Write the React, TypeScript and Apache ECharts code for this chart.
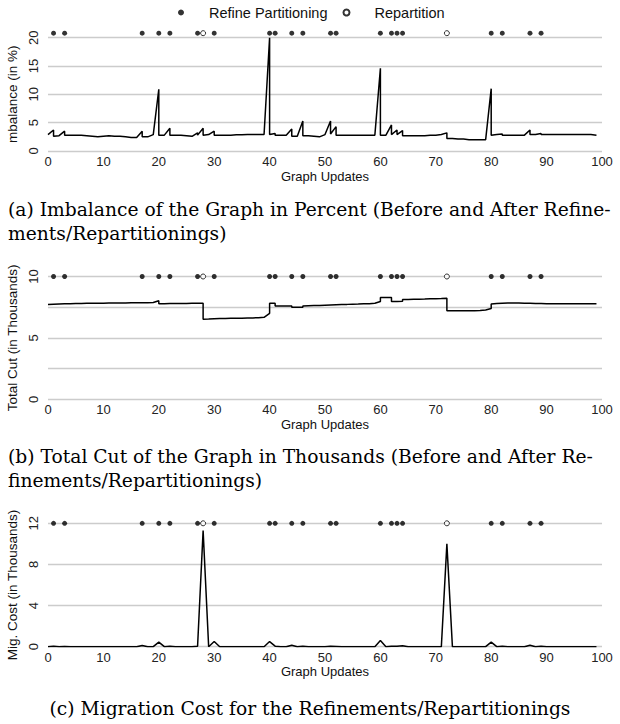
import React, { useEffect, useRef } from "react";
import * as echarts from "echarts";

// Graph updates where an adjustment happened
const refineUpdates = [1, 3, 17, 20, 22, 27, 30, 40, 41, 44, 46, 51, 52, 60, 62, 63, 64, 80, 82, 87, 89];
const repartitionUpdates = [28, 72];
const adjustUpdates = [1, 3, 17, 20, 22, 27, 28, 30, 40, 41, 44, 46, 51, 52, 60, 62, 63, 64, 72, 80, 82, 87, 89];

// (a) Imbalance in %, per graph update 0..99 (before adjustment)
const imbalanceBefore = [
  2.9, 3.7, 2.7, 3.5, 2.8, 2.8, 2.8, 2.7, 2.6, 2.5,
  2.6, 2.7, 2.6, 2.6, 2.5, 2.4, 2.4, 3.5, 2.5, 2.9,
  10.9, 2.8, 4.0, 2.8, 2.8, 2.7, 2.6, 3.2, 4.0, 2.9,
  3.5, 2.8, 2.8, 2.8, 2.85, 2.85, 2.9, 2.9, 2.9, 2.9,
  20.0, 3.1, 2.8, 2.8, 3.9, 2.6, 5.3, 2.7, 2.6, 2.5,
  2.9, 5.3, 4.3, 2.8, 2.8, 2.8, 2.8, 2.8, 2.8, 2.8,
  14.6, 2.8, 4.6, 3.7, 3.6, 2.7, 2.7, 2.7, 2.7, 2.8,
  2.8, 2.9, 3.2, 2.2, 2.1, 2.1, 2.0, 2.0, 2.0, 2.0,
  11.0, 2.9, 3.0, 2.8, 2.8, 2.8, 2.8, 3.7, 2.9, 3.1,
  2.9, 2.9, 2.9, 2.9, 2.9, 2.9, 2.9, 2.9, 2.9, 2.8,
];
// (a) Imbalance after adjustment, one per adjustUpdates entry
const imbalanceAfter = [2.6, 2.8, 2.5, 2.8, 2.8, 2.8, 2.8, 2.8, 2.9, 2.8, 2.6, 2.7, 3.0, 2.8, 2.8, 2.9, 2.9, 2.7, 2.2, 2.8, 2.8, 2.9, 2.9];

// (b) Total cut in thousands, per graph update (before adjustment)
const cutBefore = [
  7.72, 7.74, 7.76, 7.78, 7.79, 7.8, 7.81, 7.82, 7.82, 7.83,
  7.83, 7.84, 7.84, 7.85, 7.85, 7.86, 7.86, 7.87, 7.87, 7.88,
  8.03, 7.79, 7.8, 7.8, 7.81, 7.81, 7.82, 7.82, 7.82, 6.53,
  6.55, 6.57, 6.58, 6.59, 6.6, 6.61, 6.62, 6.63, 6.64, 6.68,
  7.0, 7.82, 7.6, 7.6, 7.6, 7.49, 7.5, 7.62, 7.63, 7.64,
  7.66, 7.68, 7.7, 7.72, 7.73, 7.75, 7.76, 7.78, 7.79, 7.82,
  7.96, 8.3, 8.3, 7.97, 7.98, 8.13, 8.14, 8.15, 8.16, 8.18,
  8.19, 8.2, 8.22, 7.22, 7.22, 7.21, 7.21, 7.22, 7.24, 7.28,
  7.4, 7.8, 7.82, 7.84, 7.84, 7.84, 7.83, 7.82, 7.8, 7.8,
  7.78, 7.78, 7.78, 7.78, 7.78, 7.78, 7.78, 7.78, 7.78, 7.78,
];
const cutAfter = [7.74, 7.78, 7.87, 7.78, 7.8, 7.82, 6.52, 6.55, 7.82, 7.6, 7.49, 7.6, 7.68, 7.7, 8.3, 7.96, 7.97, 8.12, 7.22, 7.76, 7.84, 7.8, 7.78];

// (c) Migration cost in thousands, per graph update
const migrationCost = [
  0, 0.05, 0, 0.03, 0, 0, 0, 0, 0, 0,
  0, 0, 0, 0, 0, 0, 0, 0.12, 0, 0,
  0.45, 0, 0.05, 0, 0, 0, 0, 0.05, 11.3, 0,
  0.5, 0, 0, 0, 0, 0, 0, 0, 0, 0,
  0.5, 0.05, 0, 0, 0.15, 0, 0.05, 0, 0, 0,
  0, 0.05, 0.03, 0, 0, 0, 0, 0, 0, 0,
  0.6, 0, 0.05, 0.05, 0.1, 0, 0, 0, 0, 0,
  0, 0, 10.0, 0, 0, 0, 0, 0, 0, 0,
  0.45, 0, 0.05, 0, 0, 0, 0, 0.15, 0, 0.05,
  0, 0, 0, 0, 0, 0, 0, 0, 0, 0,
];

// Marker row level on each panel's y scale
const markerLevels = [20.8, 10, 12];

const yMaxes = [20, 10, 12];
const yIntervals = [5, 2.5, 4];
const yLabelSteps = [5, 5, 4];
const yNames = ["mbalance (in %)", "Total Cut (in Thousands)", "Mig. Cost (in Thousands)"];

const captions = [
  ["(a) Imbalance of the Graph in Percent (Before and After Refine-", "ments/Repartitionings)"],
  ["(b) Total Cut of the Graph in Thousands (Before and After Re-", "finements/Repartitionings)"],
  ["(c) Migration Cost for the Refinements/Repartitionings"],
];

function beforeAfter(before: number[], after: number[]) {
  const pts: number[][] = [];
  before.forEach((v, x) => {
    pts.push([x, v]);
    const k = adjustUpdates.indexOf(x);
    if (k >= 0) pts.push([x, after[k]]);
  });
  return pts;
}

const SANS = "'Liberation Sans', Arial, sans-serif";
const SERIF = "'DejaVu Serif', serif";

export default function App() {
  const ref = useRef<HTMLDivElement>(null);
  useEffect(() => {
    if (!ref.current) return;
    const chart = echarts.init(ref.current, undefined, { renderer: "svg" });
    const grids = [
      { left: 48, right: 18, top: 37.7, height: 113.3, outerBoundsMode: "none", containLabel: false },
      { left: 48, right: 18, top: 276.5, height: 122.8, outerBoundsMode: "none", containLabel: false },
      { left: 48, right: 18, top: 523.3, height: 123.4, outerBoundsMode: "none", containLabel: false },
    ];
    const lineData = [
      beforeAfter(imbalanceBefore, imbalanceAfter),
      beforeAfter(cutBefore, cutAfter),
      migrationCost.map((v, x) => [x, v]),
    ];
    const series: any[] = [];
    [0, 1, 2].forEach((i) => {
      series.push({
        type: "line",
        name: ["Imbalance", "Total Cut", "Migration Cost"][i],
        xAxisIndex: i,
        yAxisIndex: i,
        data: lineData[i],
        showSymbol: false,
        symbol: "none",
        lineStyle: { color: "#000", width: 1.5 },
        itemStyle: { color: "#000" },
        z: 3,
      });
      series.push({
        type: "scatter",
        name: "Refine Partitioning",
        xAxisIndex: i,
        yAxisIndex: i,
        clip: false,
        data: refineUpdates.map((x) => [x, markerLevels[i]]),
        symbol: "circle",
        symbolSize: 5,
        itemStyle: { color: "#000" },
        z: 4,
      });
      series.push({
        type: "scatter",
        name: "Repartition",
        xAxisIndex: i,
        yAxisIndex: i,
        clip: false,
        data: repartitionUpdates.map((x) => [x, markerLevels[i]]),
        symbol: "circle",
        symbolSize: 5,
        itemStyle: { color: "#fff", borderColor: "#000", borderWidth: 1 },
        z: 4,
      });
    });
    const captionTops = [[209, 233], [456, 480], [708]];
    const graphic: any[] = [];
    captions.forEach((lines, i) =>
      lines.forEach((t, j) => {
        const centered = lines.length === 1;
        graphic.push({
          type: "text",
          x: centered ? 310 : 8,
          y: captionTops[i][j],
          style: {
            text: t,
            fill: "#000",
            fontSize: 18.7,
            fontFamily: SERIF,
            align: centered ? "center" : "left",
            verticalAlign: "middle",
          },
        });
      })
    );
    const option: any = {
      animation: false,
      legend: {
        data: ["Refine Partitioning", "Repartition"],
        left: 173,
        top: 0,
        itemWidth: 6,
        itemHeight: 6,
        itemGap: 15,
        textStyle: { fontSize: 14.5, fontFamily: SANS, color: "#111", padding: [0, 0, 0, 20] },
      },
      grid: grids,
      xAxis: [0, 1, 2].map((i) => ({
        type: "value",
        gridIndex: i,
        min: 0,
        max: 100,
        interval: 10,
        name: "Graph Updates",
        nameLocation: "middle",
        nameGap: 18.5,
        nameTextStyle: { fontSize: 13, fontFamily: SANS, color: "#111" },
        axisLine: { show: false },
        axisTick: { show: false },
        splitLine: { show: false },
        axisLabel: { fontSize: 13, fontFamily: SANS, color: "#222", margin: 4 },
      })),
      yAxis: [0, 1, 2].map((i) => ({
        type: "value",
        gridIndex: i,
        min: 0,
        max: yMaxes[i],
        interval: yIntervals[i],
        name: yNames[i],
        nameLocation: "middle",
        nameGap: 27,
        nameTextStyle: { fontSize: 13.5, fontFamily: SANS, color: "#111" },
        axisLine: { show: false },
        axisTick: { show: false },
        splitLine: { show: true, lineStyle: { color: "#cccccc", width: 1.3 } },
        axisLabel: {
          fontSize: 13,
          fontFamily: SANS,
          color: "#222",
          rotate: 90,
          margin: 8,
          formatter: (v: number) => (Math.abs(v / yLabelSteps[i] - Math.round(v / yLabelSteps[i])) < 1e-6 ? String(v) : ""),
        },
      })),
      series,
      graphic,
    };
    chart.setOption(option);
    return () => chart.dispose();
  }, []);
  return <div ref={ref} style={{ position: "absolute", left: 0, top: 0, width: 620, height: 724, background: "#fff" }} />;
}
